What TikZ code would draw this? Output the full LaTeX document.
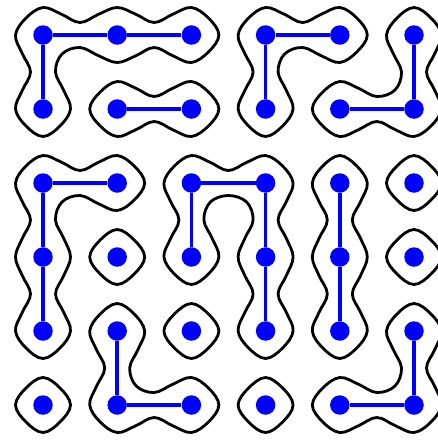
\documentclass[tikz,border=0pt]{standalone}
\begin{document}
\begin{tikzpicture}[x=1pt,y=-1pt,
  dot/.style={circle,fill=blue,inner sep=0pt,minimum size=19.5pt},
  link/.style={blue,line width=3.5pt},
  outline/.style={black,line width=2.8pt,line join=round},
  wavy/.style={smooth cycle,tension=0.62}]
\useasboundingbox (0,0) rectangle (438,440);
\clip (0,0) rectangle (438,440);
\def\rT{27.5}\def\rG{17}\def\rQa{18.5}\def\rQp{20.8}\def\rC{19}\def\rM{37}\def\rP{12.5}
\foreach \i in {0,...,5}{\foreach \j in {0,...,5}{
  \pgfmathsetmacro\X{43+74.2*\i}
  \pgfmathsetmacro\Y{35+74*\j}
  \coordinate (N\i\j) at (\X,\Y-\rT);
  \coordinate (S\i\j) at (\X,\Y+\rT);
  \coordinate (E\i\j) at (\X+\rT,\Y);
  \coordinate (W\i\j) at (\X-\rT,\Y);
  \coordinate (NE\i\j) at (\X+\rG,\Y-\rG);
  \coordinate (NW\i\j) at (\X-\rG,\Y-\rG);
  \coordinate (SE\i\j) at (\X+\rG,\Y+\rG);
  \coordinate (SW\i\j) at (\X-\rG,\Y+\rG);
  \coordinate (qEN\i\j) at (\X+\rQa,\Y-\rQp);
  \coordinate (qES\i\j) at (\X+\rQa,\Y+\rQp);
  \coordinate (qWN\i\j) at (\X-\rQa,\Y-\rQp);
  \coordinate (qWS\i\j) at (\X-\rQa,\Y+\rQp);
  \coordinate (qNE\i\j) at (\X+\rQp,\Y-\rQa);
  \coordinate (qNW\i\j) at (\X-\rQp,\Y-\rQa);
  \coordinate (qSE\i\j) at (\X+\rQp,\Y+\rQa);
  \coordinate (qSW\i\j) at (\X-\rQp,\Y+\rQa);
  \coordinate (cNE\i\j) at (\X+\rC,\Y-\rC);
  \coordinate (cNW\i\j) at (\X-\rC,\Y-\rC);
  \coordinate (cSE\i\j) at (\X+\rC,\Y+\rC);
  \coordinate (cSW\i\j) at (\X-\rC,\Y+\rC);
  \coordinate (pEN\i\j) at (\X+\rM,\Y-\rP);
  \coordinate (pES\i\j) at (\X+\rM,\Y+\rP);
  \coordinate (pSE\i\j) at (\X+\rP,\Y+\rM);
  \coordinate (pSW\i\j) at (\X-\rP,\Y+\rM);
}}
% outlines
\draw[outline] plot[wavy] coordinates {(W00) (NW00) (N00) (qEN00) (pEN00) (qWN10) (N10) (qEN10) (pEN10) (qWN20) (N20) (NE20) (E20) (SE20) (S20) (qWS20) (pES10) (qES10) (S10) (qWS10) (pES00) (cSE00) (pSE00) (qNE01) (E01) (SE01) (S01) (SW01) (W01) (qNW01) (pSW00) (qSW00)};
\draw[outline] plot[wavy] coordinates {(W11) (NW11) (N11) (qEN11) (pEN11) (qWN21) (N21) (NE21) (E21) (SE21) (S21) (qWS21) (pES11) (qES11) (S11) (SW11)};
\draw[outline] plot[wavy] coordinates {(W30) (NW30) (N30) (qEN30) (pEN30) (qWN40) (N40) (NE40) (E40) (SE40) (S40) (qWS40) (pES30) (cSE30) (pSE30) (qNE31) (E31) (SE31) (S31) (SW31) (W31) (qNW31) (pSW30) (qSW30)};
\draw[outline] plot[wavy] coordinates {(W50) (NW50) (N50) (NE50) (E50) (qSE50) (pSE50) (qNE51) (E51) (SE51) (S51) (qWS51) (pES41) (qES41) (S41) (SW41) (W41) (NW41) (N41) (qEN41) (pEN41) (cNW51) (pSW50) (qSW50)};
\draw[outline] plot[wavy] coordinates {(W02) (NW02) (N02) (qEN02) (pEN02) (qWN12) (N12) (NE12) (E12) (SE12) (S12) (qWS12) (pES02) (cSE02) (pSE02) (qNE03) (E03) (qSE03) (pSE03) (qNE04) (E04) (SE04) (S04) (SW04) (W04) (qNW04) (pSW03) (qSW03) (W03) (qNW03) (pSW02) (qSW02)};
\draw[outline] plot[wavy] coordinates {(W22) (NW22) (N22) (qEN22) (pEN22) (qWN32) (N32) (NE32) (E32) (qSE32) (pSE32) (qNE33) (E33) (qSE33) (pSE33) (qNE34) (E34) (SE34) (S34) (SW34) (W34) (qNW34) (pSW33) (qSW33) (W33) (qNW33) (pSW32) (cSW32) (pES22) (cSE22) (pSE22) (qNE23) (E23) (SE23) (S23) (SW23) (W23) (qNW23) (pSW22) (qSW22)};
\draw[outline] plot[wavy] coordinates {(N42) (NE42) (E42) (qSE42) (pSE42) (qNE43) (E43) (qSE43) (pSE43) (qNE44) (E44) (SE44) (S44) (SW44) (W44) (qNW44) (pSW43) (qSW43) (W43) (qNW43) (pSW42) (qSW42) (W42) (NW42)};
\draw[outline] plot[wavy] coordinates {(N14) (NE14) (E14) (qSE14) (pSE14) (cNE15) (pEN15) (qWN25) (N25) (NE25) (E25) (SE25) (S25) (qWS25) (pES15) (qES15) (S15) (SW15) (W15) (qNW15) (pSW14) (qSW14) (W14) (NW14)};
\draw[outline] plot[wavy] coordinates {(N54) (NE54) (E54) (qSE54) (pSE54) (qNE55) (E55) (SE55) (S55) (qWS55) (pES45) (qES45) (S45) (SW45) (W45) (NW45) (N45) (qEN45) (pEN45) (cNW55) (pSW54) (qSW54) (W54) (NW54)};
\foreach \k in {52,53,13,05,24,35}{
  \draw[outline] plot[wavy] coordinates {(N\k) (NE\k) (E\k) (SE\k) (S\k) (SW\k) (W\k) (NW\k)};
}
% dots
\foreach \i in {0,...,5}{\foreach \j in {0,...,5}{
  \node[dot] (d\i\j) at ({43+74.2*\i},{35+74*\j}) {};
}}
% links
\foreach \a/\b in {00/10,10/20,00/01,11/21,30/40,30/31,50/51,41/51,02/12,02/03,03/04,22/32,22/23,32/33,33/34,42/43,43/44,14/15,15/25,54/55,45/55}{
  \draw[link] (d\a) -- (d\b);
}
\end{tikzpicture}
\end{document}
